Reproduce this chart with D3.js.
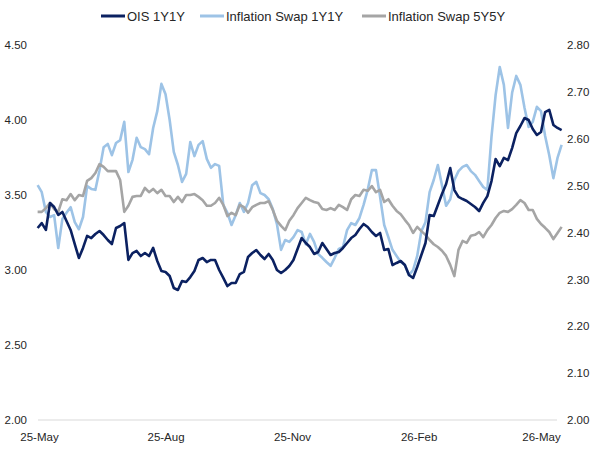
<!DOCTYPE html>
<html>
<head>
<meta charset="utf-8">
<script src="https://cdn.jsdelivr.net/npm/d3@7"></script>
<style>
  html, body { margin: 0; padding: 0; background: #fff; }
  svg { display: block; font-family: "Liberation Sans", Arial, sans-serif; }
</style>
</head>
<body>
<svg id="chart" width="600" height="450"></svg>
<script>
// ---- data ----
const startDate = "2025-05-24";   // first observation; one observation every 3 days
const stepDays = 3;

const seriesNames = ["OIS 1Y1Y", "Inflation Swap 1Y1Y", "Inflation Swap 5Y5Y"];

const ois1y1y = [
  3.280,3.313,3.267,3.447,3.420,3.367,3.387,3.327,3.267,3.173,
  3.080,3.147,3.227,3.213,3.240,3.260,3.233,3.200,3.173,3.280,
  3.293,3.313,3.067,3.113,3.127,3.093,3.113,3.093,3.147,3.060,
  2.993,2.987,2.960,2.880,2.867,2.927,2.920,2.953,2.993,3.067,
  3.080,3.053,3.067,3.067,3.000,2.947,2.893,2.913,2.913,2.973,
  2.987,3.087,3.113,3.133,3.100,3.073,3.107,3.067,3.000,2.980,
  3.000,3.027,3.067,3.140,3.213,3.180,3.153,3.107,3.120,3.180,
  3.140,3.100,3.113,3.120,3.147,3.180,3.213,3.233,3.273,3.307,
  3.287,3.253,3.227,3.247,3.133,3.140,3.033,3.047,3.060,3.033,
  2.967,2.947,3.020,3.100,3.180,3.367,3.360,3.433,3.507,3.573,
  3.680,3.533,3.487,3.473,3.460,3.440,3.420,3.393,3.447,3.493,
  3.593,3.740,3.693,3.747,3.733,3.813,3.913,3.960,4.013,4.000,
  3.940,3.900,3.920,4.053,4.067,3.967,3.947,3.933
];

const infl1y1y = [
  2.501,2.486,2.444,2.433,2.437,2.367,2.429,2.442,2.454,2.422,
  2.407,2.433,2.499,2.493,2.491,2.533,2.582,2.589,2.565,2.591,
  2.597,2.636,2.529,2.555,2.602,2.582,2.578,2.567,2.623,2.659,
  2.717,2.695,2.640,2.572,2.544,2.508,2.525,2.593,2.563,2.587,
  2.595,2.557,2.538,2.546,2.542,2.459,2.442,2.416,2.437,2.463,
  2.444,2.463,2.501,2.508,2.484,2.480,2.471,2.450,2.418,2.363,
  2.384,2.380,2.390,2.405,2.401,2.375,2.397,2.380,2.354,2.346,
  2.337,2.329,2.346,2.365,2.369,2.405,2.420,2.416,2.431,2.459,
  2.491,2.533,2.533,2.476,2.416,2.390,2.363,2.350,2.337,2.331,
  2.309,2.320,2.350,2.403,2.422,2.486,2.512,2.544,2.501,2.457,
  2.471,2.512,2.531,2.540,2.544,2.531,2.523,2.510,2.497,2.491,
  2.604,2.693,2.753,2.715,2.623,2.698,2.734,2.715,2.666,2.625,
  2.636,2.668,2.659,2.606,2.565,2.516,2.559,2.587
];

const infl5y5y = [
  2.444,2.444,2.452,2.463,2.450,2.444,2.471,2.469,2.482,2.469,
  2.480,2.478,2.510,2.516,2.527,2.546,2.540,2.531,2.531,2.531,
  2.512,2.444,2.457,2.476,2.478,2.478,2.495,2.486,2.493,2.484,
  2.491,2.478,2.478,2.465,2.476,2.465,2.480,2.480,2.482,2.476,
  2.469,2.457,2.457,2.463,2.474,2.459,2.435,2.442,2.437,2.459,
  2.454,2.442,2.454,2.459,2.463,2.463,2.467,2.448,2.425,2.414,
  2.405,2.425,2.437,2.452,2.463,2.474,2.469,2.465,2.463,2.450,
  2.448,2.452,2.448,2.459,2.454,2.448,2.471,2.480,2.478,2.491,
  2.489,2.499,2.486,2.491,2.465,2.471,2.457,2.446,2.439,2.427,
  2.416,2.399,2.412,2.403,2.395,2.384,2.375,2.369,2.361,2.350,
  2.331,2.307,2.363,2.382,2.378,2.393,2.395,2.401,2.390,2.405,
  2.416,2.431,2.442,2.446,2.444,2.450,2.459,2.469,2.463,2.448,
  2.448,2.429,2.418,2.410,2.401,2.386,2.399,2.412
];

const xTickDates = ["2025-05-25","2025-08-25","2025-11-25","2026-02-25","2026-05-25"];
const leftTicks = [2.00, 2.50, 3.00, 3.50, 4.00, 4.50];
const rightTicks = [2.00, 2.10, 2.20, 2.30, 2.40, 2.50, 2.60, 2.70, 2.80];

const colors = ["#0b2161", "#9dc3e6", "#a5a5a5"];

// ---- chart ----
const svg = d3.select("#chart");
const parse = d3.timeParse("%Y-%m-%d");
const t0 = parse(startDate);
const dates = ois1y1y.map((_, i) => d3.timeDay.offset(t0, i * stepDays));

const x = d3.scaleTime()
  .domain([parse(xTickDates[0]), parse(xTickDates[xTickDates.length - 1])])
  .range([39, 541]);
const yL = d3.scaleLinear().domain([2.0, 4.5]).range([420, 45]);
const yR = d3.scaleLinear().domain([2.0, 2.8]).range([420, 45]);

const textColor = "#262626";
const fontFam = "'Liberation Sans', Arial, sans-serif";

// baseline
svg.append("line")
  .attr("x1", 38).attr("x2", 557)
  .attr("y1", yL(2.0)).attr("y2", yL(2.0))
  .attr("stroke", "#d9d9d9").attr("stroke-width", 1);

// left axis
const gL = svg.append("g").attr("transform", "translate(27,0)")
  .call(d3.axisLeft(yL).tickValues(leftTicks).tickFormat(d3.format(".2f")).tickSize(0).tickPadding(0));
gL.select(".domain").remove();
gL.selectAll("text").attr("fill", textColor).style("font-size", "11.5px").style("font-family", fontFam);

// right axis
const gR = svg.append("g").attr("transform", "translate(567,0)")
  .call(d3.axisRight(yR).tickValues(rightTicks).tickFormat(d3.format(".2f")).tickSize(0).tickPadding(0));
gR.select(".domain").remove();
gR.selectAll("text").attr("fill", textColor).style("font-size", "11.5px").style("font-family", fontFam);

// bottom axis
const gB = svg.append("g").attr("transform", "translate(0,433)")
  .call(d3.axisBottom(x).tickValues(xTickDates.map(parse)).tickFormat(d3.timeFormat("%y-%b")).tickSize(0).tickPadding(0));
gB.select(".domain").remove();
gB.selectAll("text").attr("fill", textColor).style("font-size", "11.5px").style("font-family", fontFam);

// lines
const lineL = d3.line().x((d, i) => x(dates[i])).y(d => yL(d));
const lineR = d3.line().x((d, i) => x(dates[i])).y(d => yR(d));

svg.append("path").datum(infl1y1y).attr("d", lineR)
  .attr("fill", "none").attr("stroke", colors[1]).attr("stroke-width", 2.6).attr("stroke-linejoin", "round");
svg.append("path").datum(infl5y5y).attr("d", lineR)
  .attr("fill", "none").attr("stroke", colors[2]).attr("stroke-width", 2.6).attr("stroke-linejoin", "round");
svg.append("path").datum(ois1y1y).attr("d", lineL)
  .attr("fill", "none").attr("stroke", colors[0]).attr("stroke-width", 2.6).attr("stroke-linejoin", "round");

// legend
const legendX = [101, 200, 362];
const lg = svg.append("g");
seriesNames.forEach((name, i) => {
  lg.append("line")
    .attr("x1", legendX[i]).attr("x2", legendX[i] + 24)
    .attr("y1", 16).attr("y2", 16)
    .attr("stroke", colors[i]).attr("stroke-width", 3);
  lg.append("text")
    .attr("x", legendX[i] + 26).attr("y", 16)
    .attr("dy", "0.35em")
    .attr("fill", textColor)
    .style("font-size", "13px")
    .style("font-family", fontFam)
    .text(name);
});
</script>
</body>
</html>
